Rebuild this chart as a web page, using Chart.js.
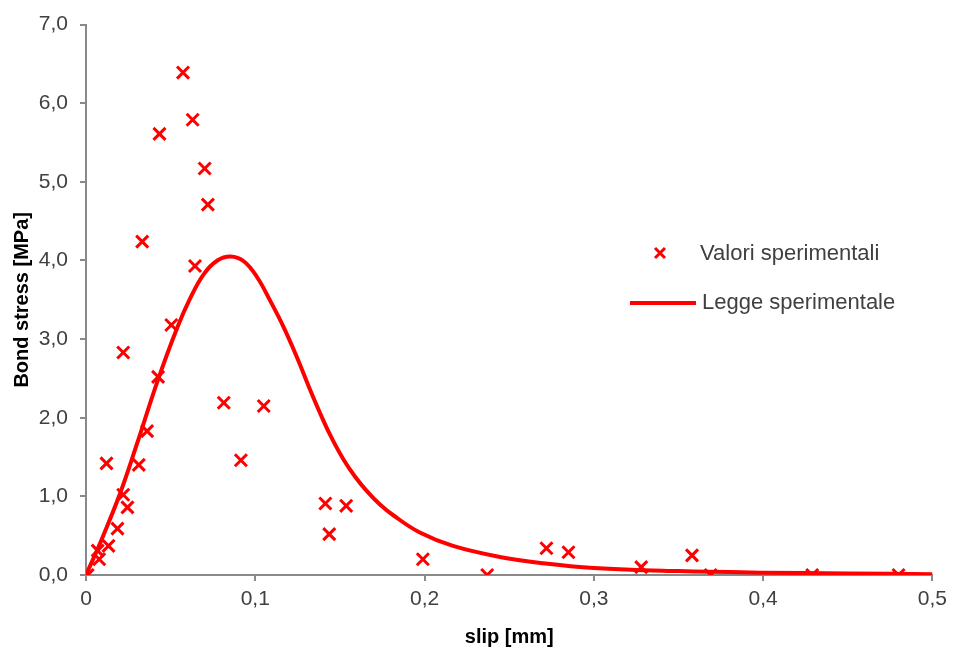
<!DOCTYPE html>
<html>
<head>
<meta charset="utf-8">
<script src="https://cdn.jsdelivr.net/npm/chart.js@4.4.1/dist/chart.umd.min.js"></script>
<style>
  body { margin: 0; background: #fff; }
  #wrap { width: 953px; height: 657px; }
</style>
</head>
<body>
<div id="wrap"><canvas id="bondChart" width="953" height="657"></canvas></div>
<script>
// experimental points (slip in mm, bond stress in MPa)
const testSlip = [0.001, 0.0078, 0.0069, 0.0133, 0.0186, 0.022, 0.0245, 0.0121, 0.0312, 0.0361,
    0.0426, 0.022, 0.0814, 0.0915, 0.105, 0.0573, 0.063, 0.0434, 0.0701, 0.072,
    0.0332, 0.0644, 0.0504, 0.1414, 0.1537, 0.1437, 0.199, 0.237, 0.272, 0.285,
    0.328, 0.358, 0.369, 0.429, 0.48];
const testStress = [0.0, 0.2, 0.31, 0.37, 0.59, 1.02, 0.86, 1.42, 1.40, 1.83,
    2.52, 2.83, 2.19, 1.46, 2.15, 6.39, 5.79, 5.61, 5.17, 4.71,
    4.24, 3.93, 3.18, 0.91, 0.88, 0.52, 0.2, 0.0, 0.34, 0.29,
    0.1, 0.25, 0.0, 0.0, 0.0];

// fitted law
const lawSlip = [0, 0.009, 0.02, 0.03, 0.042, 0.054, 0.0618, 0.0697, 0.0776, 0.0854,
    0.0932, 0.101, 0.109, 0.1168, 0.1246, 0.1325, 0.1403, 0.1452, 0.1521, 0.159,
    0.1658, 0.1735, 0.1815, 0.1972, 0.2168, 0.2444, 0.27, 0.3, 0.35, 0.4,
    0.45, 0.5];
const lawStress = [0, 0.44, 1.03, 1.66, 2.45, 3.15, 3.53, 3.83, 4.0, 4.05,
    3.99, 3.79, 3.48, 3.15, 2.77, 2.35, 1.96, 1.74, 1.47, 1.25,
    1.07, 0.9, 0.76, 0.54, 0.37, 0.23, 0.15, 0.09, 0.05, 0.03,
    0.02, 0.01];

const xTickLabels = ['0', '0,1', '0,2', '0,3', '0,4', '0,5'];
const yTickLabels = ['0,0', '1,0', '2,0', '3,0', '4,0', '5,0', '6,0', '7,0'];

const RED = '#ff0000';
const AXIS_GREY = '#898989';
const FONT = '"Liberation Sans", Arial, sans-serif';

// legend drawn at the right, middle of the plot
const sideLegend = {
    id: 'sideLegend',
    afterDraw(chart) {
        const ctx = chart.ctx;
        const sets = chart.data.datasets;
        ctx.save();
        ctx.font = '22px ' + FONT;
        ctx.fillStyle = '#404040';
        ctx.textBaseline = 'middle';
        ctx.textAlign = 'left';

        // cross marker
        ctx.strokeStyle = RED;
        ctx.lineWidth = 3;
        ctx.beginPath();
        ctx.moveTo(655, 248); ctx.lineTo(665, 258);
        ctx.moveTo(665, 248); ctx.lineTo(655, 258);
        ctx.stroke();
        ctx.fillText(sets[0].label, 700, 254);

        // line sample
        ctx.lineWidth = 4;
        ctx.beginPath();
        ctx.moveTo(630, 303); ctx.lineTo(696, 303);
        ctx.stroke();
        ctx.fillText(sets[1].label, 702, 303);
        ctx.restore();
    }
};

function initBondChart() {
    const ctx = document.getElementById('bondChart').getContext('2d');
    new Chart(ctx, {
        type: 'scatter',
        data: {
            datasets: [{
                label: 'Valori sperimentali',
                data: testSlip.map((s, i) => ({ x: s, y: testStress[i] })),
                pointStyle: 'crossRot',
                pointRadius: 8.5,
                pointBorderWidth: 3,
                borderColor: RED,
                backgroundColor: RED,
                order: 1
            }, {
                label: 'Legge sperimentale',
                data: lawSlip.map((s, i) => ({ x: s, y: lawStress[i] })),
                showLine: true,
                pointRadius: 0,
                borderColor: RED,
                borderWidth: 4,
                tension: 0.4,
                order: 2
            }]
        },
        options: {
            responsive: false,
            animation: false,
            layout: { padding: { left: 10, top: 24, right: 20, bottom: 0 } },
            plugins: {
                legend: { display: false },
                tooltip: { enabled: false }
            },
            scales: {
                x: {
                    type: 'linear',
                    min: 0,
                    max: 0.5,
                    ticks: {
                        stepSize: 0.1,
                        autoSkip: false,
                        maxRotation: 0,
                        padding: 6,
                        color: '#404040',
                        font: { family: FONT, size: 21 },
                        callback: (v, i) => xTickLabels[i]
                    },
                    grid: { drawOnChartArea: false, tickLength: 6, color: AXIS_GREY, lineWidth: 2 },
                    border: { color: AXIS_GREY, width: 2 },
                    title: {
                        display: true,
                        text: 'slip [mm]',
                        color: '#000',
                        padding: { top: 8, bottom: 8 },
                        font: { family: FONT, size: 20, weight: 'bold' }
                    },
                    afterFit: s => { s.height = 82; }
                },
                y: {
                    min: 0,
                    max: 7,
                    ticks: {
                        stepSize: 1,
                        padding: 12,
                        color: '#404040',
                        font: { family: FONT, size: 21 },
                        callback: (v, i) => yTickLabels[i]
                    },
                    grid: { drawOnChartArea: false, tickLength: 6, color: AXIS_GREY, lineWidth: 2 },
                    border: { color: AXIS_GREY, width: 2 },
                    title: {
                        display: true,
                        text: 'Bond stress [MPa]',
                        color: '#000',
                        padding: 0,
                        font: { family: FONT, size: 20, weight: 'bold' }
                    },
                    afterFit: s => { s.width = 76; }
                }
            }
        },
        plugins: [sideLegend]
    });
}

initBondChart();
</script>
</body>
</html>
